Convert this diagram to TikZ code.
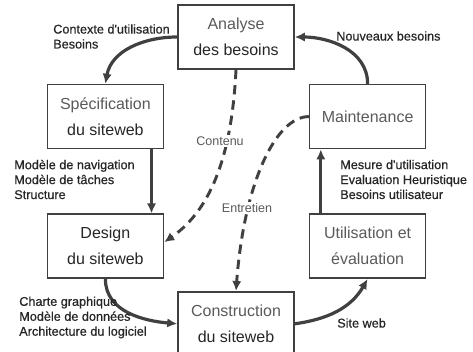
\documentclass[tikz,border=0pt]{standalone}
\usepackage{fontspec}
\setmainfont{Liberation Sans}
\newfontfamily\notefont[FakeBold=0.6]{Liberation Sans}
\usepackage{tikz}
\usetikzlibrary{arrows.meta, positioning}
\definecolor{mline}{HTML}{404040}
\definecolor{mgray}{HTML}{5A5A5A}
\definecolor{mdark}{HTML}{262626}
\tikzstyle{stage} = [rectangle, draw = mline, line width = 1.2pt, minimum width = 87pt, minimum height = 48pt, text centered, align = center, text = mgray, font = \fontsize{12}{19.5}\selectfont]
\tikzstyle{note} = [inner sep = 0pt, align = left, text = mdark, font = \notefont\fontsize{9.5}{11.2}\selectfont]
\tikzstyle{tag} = [inner sep = 1pt, fill = white, text = mgray, font = \fontsize{9.4}{11}\selectfont]
\tikzstyle{flow} = [mline, line width = 2.4pt, -{Latex[length = 7.5pt, width = 7pt]}]
\tikzstyle{link} = [mline, line width = 2.2pt, dash pattern = on 7pt off 4.5pt, -{Latex[length = 7.5pt, width = 7pt]}]

\begin{document}
\begin{tikzpicture}[x = 0.75pt, y = -0.75pt]
  \useasboundingbox (0,0) rectangle (473,352);
  \node (ana) [stage] at (236,37) {Analyse\\\textcolor{mdark}{des besoins}};
  \node (spec) [stage, below left = 10.5pt and 9.75pt of ana] {Sp\'ecification\\\textcolor{mdark}{du siteweb}};
  \node (maint) [stage, below right = 10.5pt and 10.5pt of ana] {Maintenance};
  \node (des) [stage, below = 48pt of spec, text = mdark] {Design\\du siteweb};
  \node (util) [stage, below = 48pt of maint] {Utilisation et\\\'evaluation};
  \node (cons) [stage, below right = 9pt and 9.75pt of des] {Construction\\\textcolor{mdark}{du siteweb}};
  % cycle
  \draw [flow] (ana.west) to[out = 180, in = 80] (spec.north);
  \draw [flow] ([xshift = -9.5pt]spec.south east) -- ([xshift = -9.5pt]des.north east);
  \draw [flow] (des.south) to[out = -90, in = 175] (cons.west);
  \draw [flow] (cons.east) to[out = 8, in = 240] (util.south);
  \draw [flow] ([xshift = 9pt]util.north west) -- ([xshift = 9pt]maint.south west);
  \draw [flow] (maint.north) to[out = 90, in = 0] (ana.east);
  % dashed links
  \draw [link] (ana.south) .. controls +(-4,81) and +(49,-34) .. ([yshift = 3pt]des.east);
  \draw [link] (maint.west) .. controls +(-33,0) and +(8,-108) .. (cons.north);
  \node (contenu) [tag] at (220,141) {Contenu};
  \node (entretien) [tag] at (247,208) {Entretien};
  % labels
  \node (ctx) [note, anchor = west] at (53,36.5) {Contexte d'utilisation\\Besoins};
  \node (modeles) [note, anchor = west] at (14,179.5) {Mod\`ele de navigation\\Mod\`ele de t\^aches\\Structure};
  \node (charte) [note, anchor = west] at (19,317.5) {Charte graphique\\Mod\`ele de donn\'ees\\Architecture du logiciel};
  \node (nouveaux) [note, anchor = west] at (336,36) {Nouveaux besoins};
  \node (mesure) [note, anchor = west] at (340,179.5) {Mesure d'utilisation\\Evaluation Heuristique\\Besoins utilisateur};
  \node (site) [note, anchor = west] at (337,323) {Site web};
\end{tikzpicture}
\end{document}
